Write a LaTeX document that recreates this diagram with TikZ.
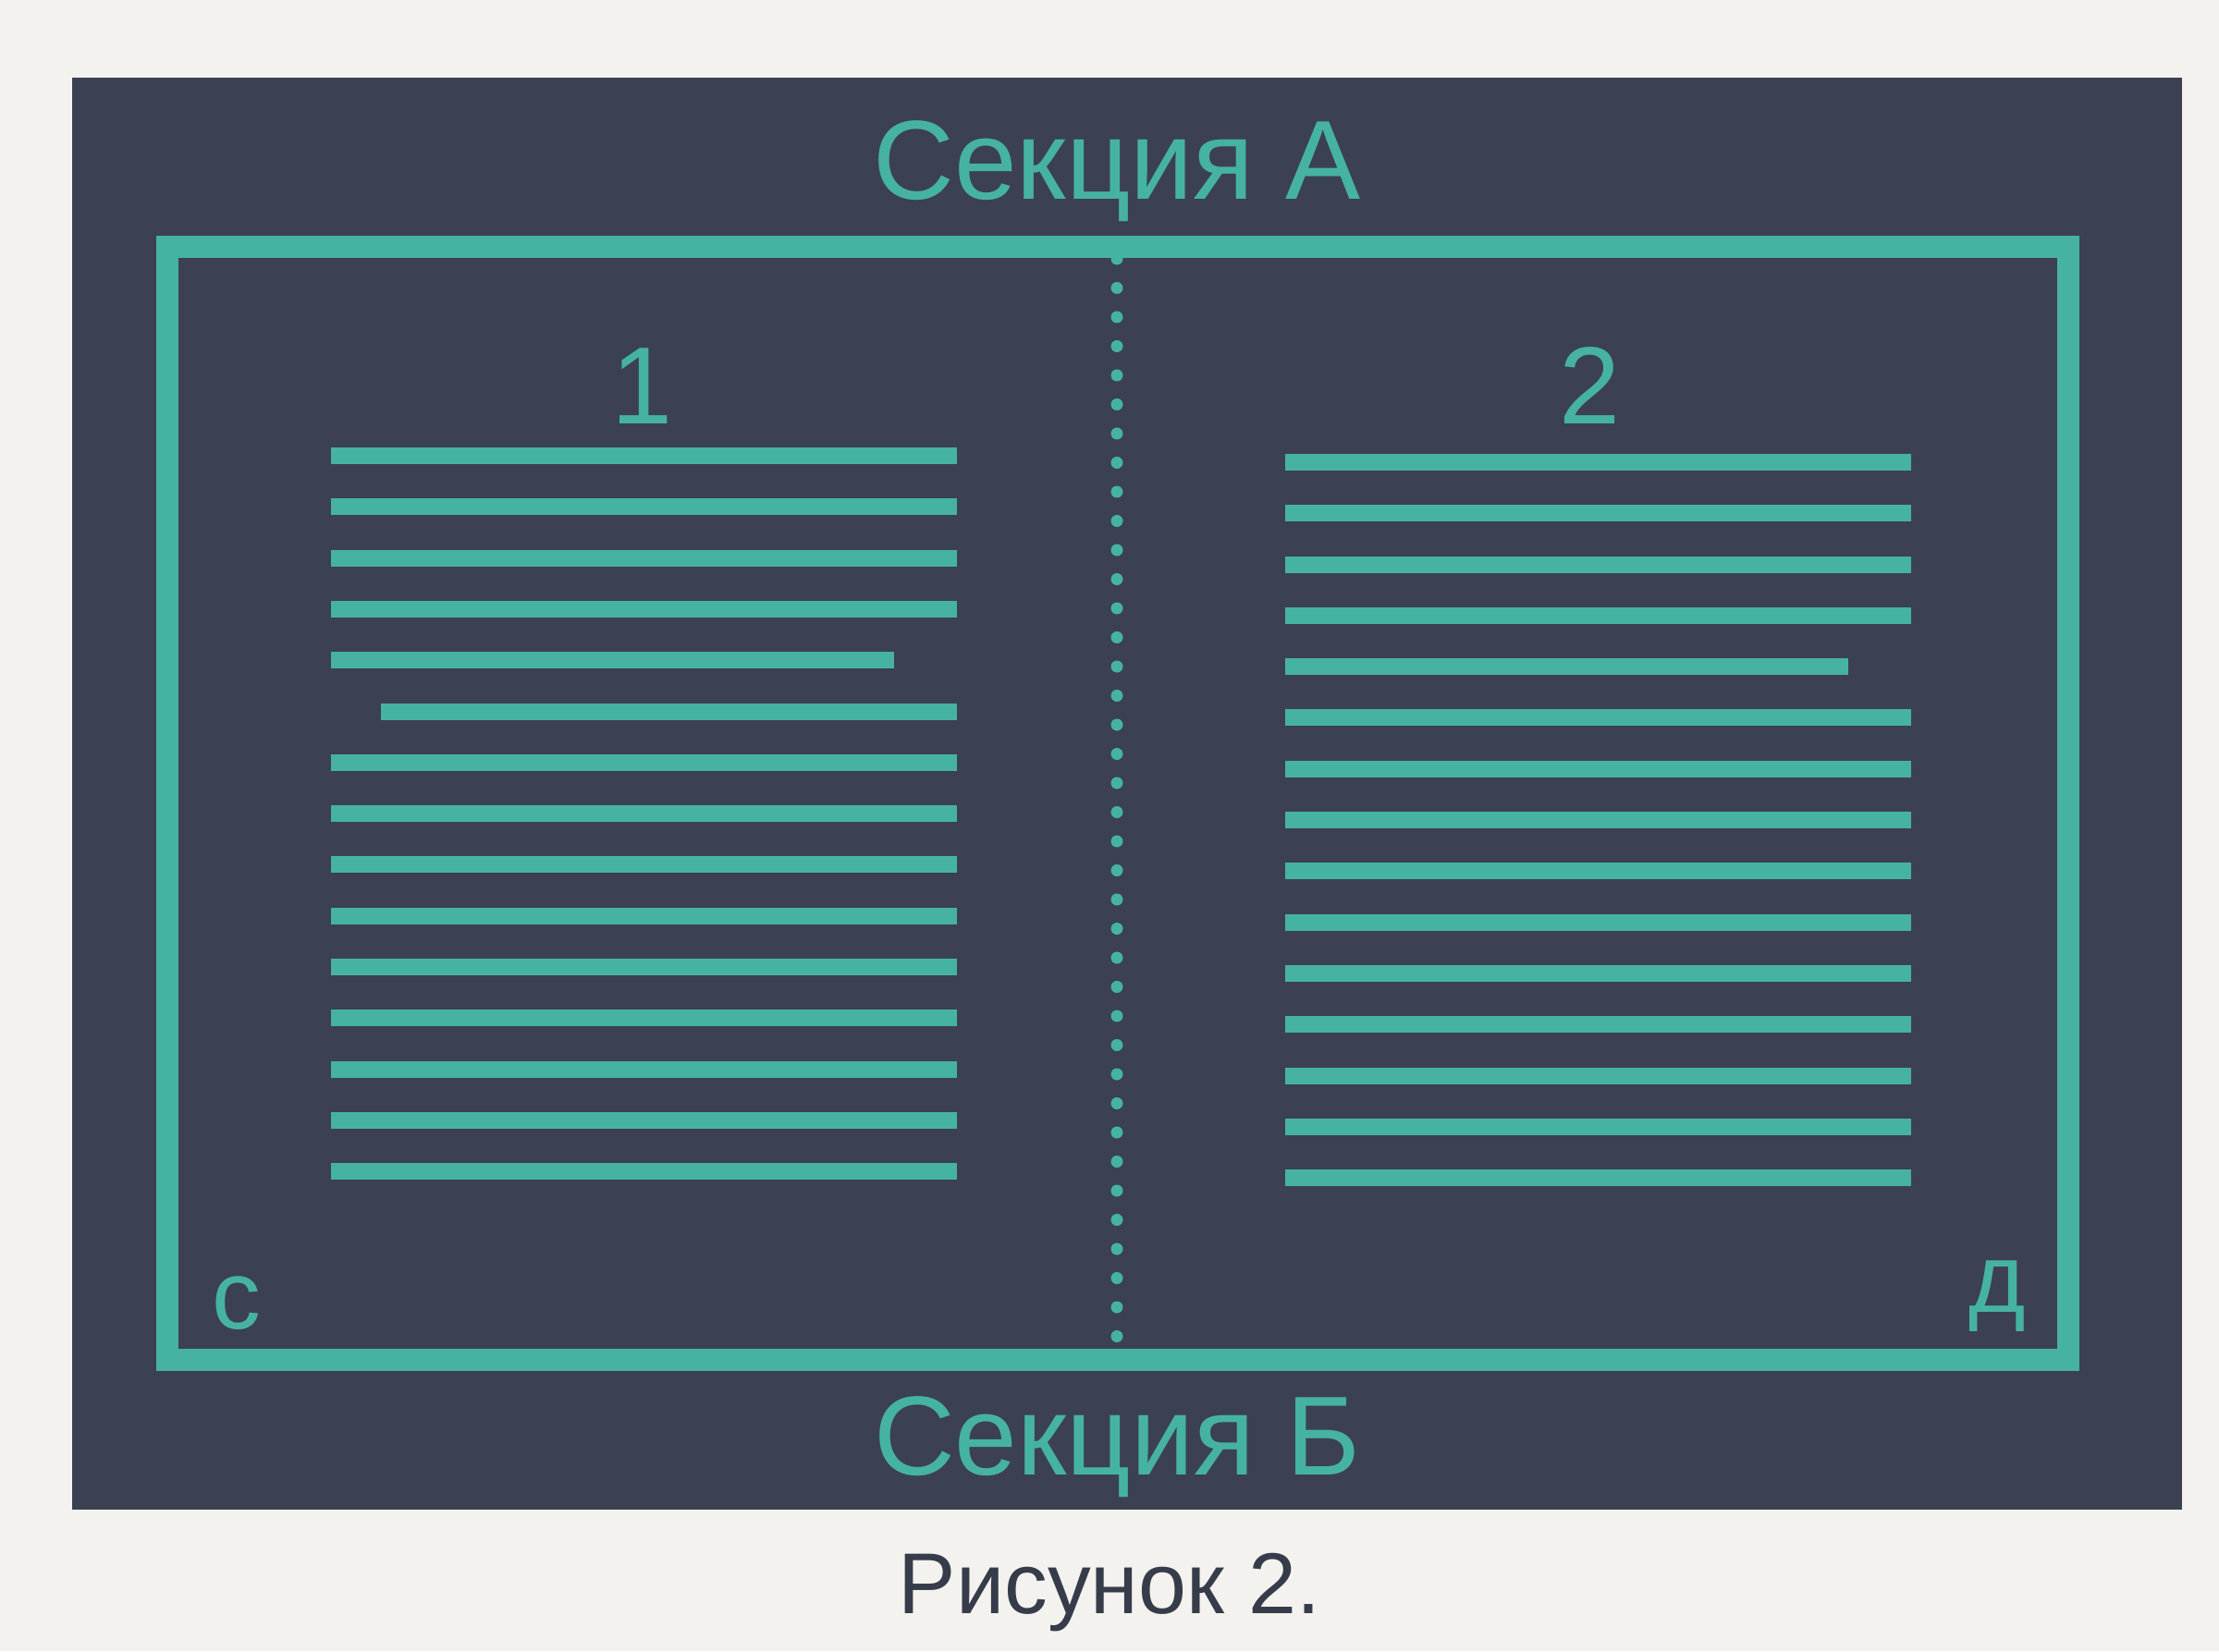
\documentclass[tikz,border=0pt]{standalone}
\usepackage{fontspec}
\setmainfont{Liberation Sans}
\definecolor{panel}{HTML}{3B4150}
\definecolor{mint}{HTML}{46B3A1}
\definecolor{paper}{HTML}{F4F2EE}
\definecolor{ink}{HTML}{363C4A}
\begin{document}
\begin{tikzpicture}[x=1cm,y=1cm,
    rule/.style={mint, line width=0.18cm},
    lbl/.style={mint, anchor=base, inner sep=0pt}]
  \fill[paper] (0,0) rectangle (24,17.86);
  \fill[panel] (0.78,1.53) rectangle (23.60,17.02);
  \draw[mint, line width=0.13cm, line cap=round, dash pattern=on 0pt off 0.315cm] (12.08,15.06) -- (12.08,3.40);
  \draw[mint, line width=0.24cm] (1.81,3.15) rectangle (22.37,15.19);
  % left page
  \foreach \i in {0,1,2,3,6,7,...,14} \draw[rule] (3.58,12.93-0.553*\i) -- (10.35,12.93-0.553*\i);
  \draw[rule] (3.58,10.718) -- (9.67,10.718);
  \draw[rule] (4.12,10.165) -- (10.35,10.165);
  % right page
  \foreach \i in {0,1,2,3,5,6,...,14} \draw[rule] (13.90,12.86-0.553*\i) -- (20.67,12.86-0.553*\i);
  \draw[rule] (13.90,10.648) -- (19.99,10.648);
  \node[lbl, font=\fontsize{34.6}{40}\selectfont] (secA) at (12.08,15.70) {Секция А};
  \node[lbl, font=\fontsize{34.6}{40}\selectfont] (secB) at (12.08,1.91) {Секция Б};
  \node[lbl, font=\fontsize{33.8}{40}\selectfont] (num1) at (6.95,13.27) {1};
  \node[lbl, font=\fontsize{33.8}{40}\selectfont] (num2) at (17.20,13.27) {2};
  \node[lbl, font=\fontsize{30}{36}\selectfont] (cornerC) at (2.56,3.49) {с};
  \node[lbl, font=\fontsize{30}{36}\selectfont] (cornerD) at (21.60,3.67) {д};
  \node[lbl, ink, font=\fontsize{26.6}{32}\selectfont] (caption) at (12.00,0.41) {Рисунок 2.};
\end{tikzpicture}
\end{document}
